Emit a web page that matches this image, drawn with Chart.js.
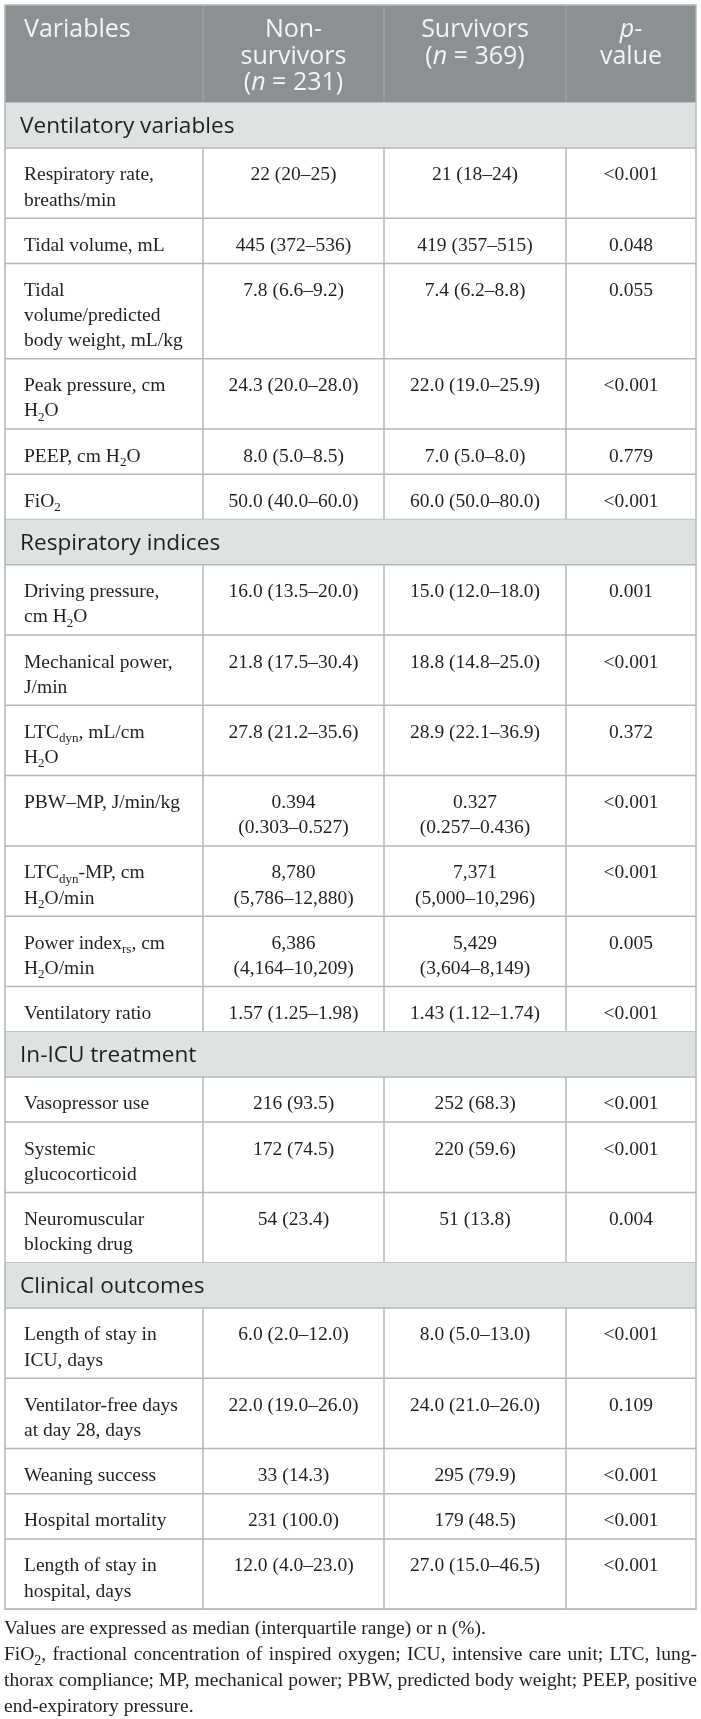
<!DOCTYPE html>
<html>
<head>
<meta charset="utf-8">
<script src="https://cdn.jsdelivr.net/npm/chart.js@4.4.1/dist/chart.umd.min.js"></script>
<style>
  html, body { margin: 0; padding: 0; background: #fff; }
  #wrap { position: relative; width: 701px; height: 1719px; }
</style>
</head>
<body>
<div id="wrap"><canvas id="tableChart"></canvas></div>
<script>
// Table content (*text* = italic, _text_ = subscript, \n = line break as printed)
const columnHeaders = ['Variables', 'Non-\nsurvivors\n(*n* = 231)', 'Survivors\n(*n* = 369)', '*p*-\nvalue'];

const sectionTitles = ['Ventilatory variables', 'Respiratory indices', 'In-ICU treatment', 'Clinical outcomes'];

const sectionIndex = [0, 0, 0, 0, 0, 0, 1, 1, 1, 1, 1, 1, 1, 2, 2, 2, 3, 3, 3, 3, 3];

const variables = [
    'Respiratory rate,\nbreaths/min',
    'Tidal volume, mL',
    'Tidal\nvolume/predicted\nbody weight, mL/kg',
    'Peak pressure, cm\nH_2_O',
    'PEEP, cm H_2_O',
    'FiO_2_',
    'Driving pressure,\ncm H_2_O',
    'Mechanical power,\nJ/min',
    'LTC_dyn_, mL/cm\nH_2_O',
    'PBW–MP, J/min/kg',
    'LTC_dyn_-MP, cm\nH_2_O/min',
    'Power index_rs_, cm\nH_2_O/min',
    'Ventilatory ratio',
    'Vasopressor use',
    'Systemic\nglucocorticoid',
    'Neuromuscular\nblocking drug',
    'Length of stay in\nICU, days',
    'Ventilator-free days\nat day 28, days',
    'Weaning success',
    'Hospital mortality',
    'Length of stay in\nhospital, days'
];

const nonSurvivors = [
    '22 (20–25)', '445 (372–536)', '7.8 (6.6–9.2)', '24.3 (20.0–28.0)', '8.0 (5.0–8.5)', '50.0 (40.0–60.0)',
    '16.0 (13.5–20.0)', '21.8 (17.5–30.4)', '27.8 (21.2–35.6)', '0.394\n(0.303–0.527)', '8,780\n(5,786–12,880)',
    '6,386\n(4,164–10,209)', '1.57 (1.25–1.98)',
    '216 (93.5)', '172 (74.5)', '54 (23.4)',
    '6.0 (2.0–12.0)', '22.0 (19.0–26.0)', '33 (14.3)', '231 (100.0)', '12.0 (4.0–23.0)'
];

const survivors = [
    '21 (18–24)', '419 (357–515)', '7.4 (6.2–8.8)', '22.0 (19.0–25.9)', '7.0 (5.0–8.0)', '60.0 (50.0–80.0)',
    '15.0 (12.0–18.0)', '18.8 (14.8–25.0)', '28.9 (22.1–36.9)', '0.327\n(0.257–0.436)', '7,371\n(5,000–10,296)',
    '5,429\n(3,604–8,149)', '1.43 (1.12–1.74)',
    '252 (68.3)', '220 (59.6)', '51 (13.8)',
    '8.0 (5.0–13.0)', '24.0 (21.0–26.0)', '295 (79.9)', '179 (48.5)', '27.0 (15.0–46.5)'
];

const pValues = [
    '<0.001', '0.048', '0.055', '<0.001', '0.779', '<0.001',
    '0.001', '<0.001', '0.372', '<0.001', '<0.001', '0.005', '<0.001',
    '<0.001', '<0.001', '0.004',
    '<0.001', '0.109', '<0.001', '<0.001', '<0.001'
];

// footnote lines as printed; justified lines are flagged
const footnoteLines = [
    'Values are expressed as median (interquartile range) or n (%).',
    'FiO_2_, fractional concentration of inspired oxygen; ICU, intensive care unit; LTC, lung-',
    'thorax compliance; MP, mechanical power; PBW, predicted body weight; PEEP, positive',
    'end-expiratory pressure.'
];
const footnoteJustified = [false, true, true, false];

// Layout / style
const W = 701, H = 1719;
const colEdges = [5, 203, 384, 566, 696];
const tableTop = 5;
const headerHeight = 97.7;
const headerLineStep = 26.6;
const lineStep = 25.1;
const rowPad = 20.1;

const headerStyle = { font: '"Open Sans"', size: 25, sub: 16, drop: 5, color: '#f4f4f4' };
const sectionStyle = { font: '"Open Sans"', size: 22.6, sub: 15, drop: 5, color: '#231f20' };
const bodyStyle = { font: '"Liberation Serif"', size: 19.5, sub: 13, drop: 4.5, color: '#231f20' };
const noteStyle = { font: '"Liberation Serif"', size: 19.5, sub: 14, drop: 4.5, color: '#231f20' };

function parseRich(str) {
    const segs = [];
    let mode = 'n', buf = '';
    for (const ch of str) {
        if (ch === '*' || ch === '_') {
            if (buf) segs.push({ t: buf, m: mode });
            buf = '';
            const m = ch === '*' ? 'i' : 's';
            mode = mode === m ? 'n' : m;
        } else {
            buf += ch;
        }
    }
    if (buf) segs.push({ t: buf, m: mode });
    return segs;
}

function segFont(seg, st) {
    if (seg.m === 'i') return 'italic ' + st.size + 'px ' + st.font;
    if (seg.m === 's') return st.sub + 'px ' + st.font;
    return st.size + 'px ' + st.font;
}

function richWidth(ctx, segs, st) {
    let w = 0;
    segs.forEach(seg => {
        ctx.font = segFont(seg, st);
        w += ctx.measureText(seg.t).width;
    });
    return w;
}

function drawRich(ctx, str, x, y, st, align) {
    const segs = parseRich(str);
    if (align === 'center') x -= richWidth(ctx, segs, st) / 2;
    ctx.fillStyle = st.color;
    ctx.textAlign = 'left';
    ctx.textBaseline = 'alphabetic';
    segs.forEach(seg => {
        ctx.font = segFont(seg, st);
        ctx.fillText(seg.t, x, y + (seg.m === 's' ? st.drop : 0));
        x += ctx.measureText(seg.t).width;
    });
}

function lineCount(str) {
    return str.split('\n').length;
}

// build the table rows (section rows + data rows) with their top positions
function buildRows() {
    const rows = [];
    let y = tableTop + headerHeight;
    let lastSection = -1;
    variables.forEach((v, i) => {
        if (sectionIndex[i] !== lastSection) {
            lastSection = sectionIndex[i];
            const h = rowPad + lineStep;
            rows.push({ type: 'section', text: sectionTitles[lastSection], top: y, bottom: y + h });
            y += h;
        }
        const cells = [v, nonSurvivors[i], survivors[i], pValues[i]];
        const n = Math.max(...cells.map(lineCount));
        const h = rowPad + lineStep * n;
        rows.push({ type: 'data', cells: cells, top: y, bottom: y + h });
        y += h;
    });
    return rows;
}

const tablePlugin = {
    id: 'tableRenderer',
    afterDraw(chart) {
        const ctx = chart.ctx;
        const xs = chart.scales.x, ys = chart.scales.y;
        const px = v => xs.getPixelForValue(v);
        const py = v => ys.getPixelForValue(v);
        const rows = buildRows();
        const tableBottom = rows[rows.length - 1].bottom;
        const left = px(colEdges[0]), right = px(colEdges[4]);

        ctx.save();
        ctx.fillStyle = '#ffffff';
        ctx.fillRect(0, 0, chart.width, chart.height);

        // header
        const hTop = py(tableTop), hBot = py(tableTop + headerHeight);
        ctx.fillStyle = '#8b9093';
        ctx.fillRect(left, hTop, right - left, hBot - hTop);
        ctx.strokeStyle = '#a4a8ab';
        ctx.lineWidth = 1;
        for (let c = 1; c < 4; c++) {
            ctx.beginPath();
            ctx.moveTo(px(colEdges[c]), hTop);
            ctx.lineTo(px(colEdges[c]), hBot);
            ctx.stroke();
        }
        columnHeaders.forEach((hd, c) => {
            hd.split('\n').forEach((ln, k) => {
                const yb = py(tableTop + 32 + k * headerLineStep);
                if (c === 0) drawRich(ctx, ln, px(colEdges[0] + 19), yb, headerStyle, 'left');
                else drawRich(ctx, ln, px((colEdges[c] + colEdges[c + 1]) / 2), yb, headerStyle, 'center');
            });
        });

        // rows
        rows.forEach(r => {
            const t = py(r.top), b = py(r.bottom);
            if (r.type === 'section') {
                ctx.fillStyle = '#dfe2e3';
                ctx.fillRect(left, t, right - left, b - t);
                drawRich(ctx, r.text, px(colEdges[0] + 15), py(r.top + 30.5), sectionStyle, 'left');
            } else {
                ctx.strokeStyle = '#b3b6b8';
                ctx.lineWidth = 1.5;
                for (let c = 1; c < 4; c++) {
                    ctx.beginPath();
                    ctx.moveTo(px(colEdges[c]), t);
                    ctx.lineTo(px(colEdges[c]), b);
                    ctx.stroke();
                }
                r.cells.forEach((cell, c) => {
                    cell.split('\n').forEach((ln, k) => {
                        const yb = py(r.top + 32.5 + k * lineStep);
                        if (c === 0) drawRich(ctx, ln, px(colEdges[0] + 19), yb, bodyStyle, 'left');
                        else drawRich(ctx, ln, px((colEdges[c] + colEdges[c + 1]) / 2), yb, bodyStyle, 'center');
                    });
                });
            }
            ctx.strokeStyle = '#b3b6b8';
            ctx.lineWidth = 1.5;
            ctx.beginPath();
            ctx.moveTo(left, b);
            ctx.lineTo(right, b);
            ctx.stroke();
        });

        // outer border
        ctx.strokeStyle = '#b3b6b8';
        ctx.lineWidth = 1.5;
        ctx.strokeRect(left, hTop, right - left, py(tableBottom) - hTop);

        // footnotes
        const noteLeft = 4, noteRight = 697;
        footnoteLines.forEach((ln, k) => {
            const yb = py(tableBottom + 25 + k * 26);
            if (!footnoteJustified[k]) {
                drawRich(ctx, ln, px(noteLeft), yb, noteStyle, 'left');
                return;
            }
            const words = ln.split(' ');
            const widths = words.map(w => richWidth(ctx, parseRich(w), noteStyle));
            const total = widths.reduce((a, b) => a + b, 0);
            const gap = (px(noteRight) - px(noteLeft) - total) / (words.length - 1);
            let x = px(noteLeft);
            words.forEach((w, i) => {
                drawRich(ctx, w, x, yb, noteStyle, 'left');
                x += widths[i] + gap;
            });
        });
        ctx.restore();
    }
};

new Chart(document.getElementById('tableChart'), {
    type: 'scatter',
    data: { datasets: [{ data: [], pointRadius: 0 }] },
    options: {
        responsive: true,
        maintainAspectRatio: false,
        animation: false,
        layout: { padding: 0 },
        plugins: { legend: { display: false }, tooltip: { enabled: false } },
        scales: {
            x: { type: 'linear', min: 0, max: W, display: false },
            y: { type: 'linear', min: 0, max: H, reverse: true, display: false }
        }
    },
    plugins: [tablePlugin]
});
</script>
</body>
</html>
